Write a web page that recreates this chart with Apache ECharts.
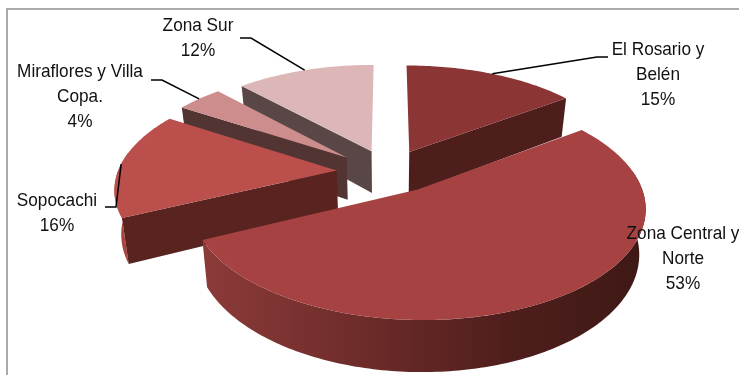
<!DOCTYPE html>
<html>
<head>
<meta charset="utf-8">
<style>html,body{margin:0;padding:0;background:#fff}#chart{width:739px;height:375px}</style>
<script src="https://cdn.jsdelivr.net/npm/echarts@6/dist/echarts.min.js"></script>
</head>
<body>
<div id="chart"></div>
<script>
// Population share by zone, clockwise from twelve o'clock.
const zones = ['El Rosario y\nBelén', 'Zona Central y\nNorte', 'Sopocachi', 'Miraflores y Villa\nCopa.', 'Zona Sur'];
const shares = [15, 53, 16, 4, 12];

const topColors = ['#8b3635', '#a64241', '#bb4f4b', '#cd8d8c', '#ddb7b7'];
const edgeColors = ['#4d1e1b', '#4d1e1b', '#59241f', '#523433', '#594747'];
const rimColors = ['#4d1e1b', null, '#a8443f', '#523433', '#594747'];

// Back-to-front painting sequence, as indices into the arrays above.
const paintOrder = [4, 3, 0, 2, 1];

// Label centre and leader elbow for each zone.
const labelCentres = [[658, 75], [683, 259], [57, 213], [80, 97], [198, 38]];
const leaderElbows = [[[597, 57], [608, 57]], null, [[116, 207], [105, 207]], [[162, 80], [151, 80]], [[251, 38], [240, 38]]];

// How far each wedge is pulled out along its bisector, across and into the view.
const pullOut = [[0.22, 0.22], [0.26, 0.19], [0.235, 0.22], [0.25, 0.22], [0.21, 0.22]];

// Perspective projection of the tilted pie.
const view = { cx: 388, cy: 172, ax: 219, ay: 105, persp: 0.15, depth: 43, converge: 0.025 };

function project(x, y, z) {
  const w = 1 / (1 + view.persp * y);
  return [
    view.cx + view.ax * x * w * (1 - view.converge * z),
    view.cy - view.ay * y * w + view.depth * z * w
  ];
}

const total = shares.reduce((a, b) => a + b, 0);
const sliceAngles = [];
shares.reduce((acc, v) => {
  const next = acc + v;
  sliceAngles.push([acc / total * 360, next / total * 360]);
  return next;
}, 0);

const rad = d => d * Math.PI / 180;

function apexOf(i) {
  const mid = rad((sliceAngles[i][0] + sliceAngles[i][1]) / 2);
  return [pullOut[i][0] * Math.sin(mid), pullOut[i][1] * Math.cos(mid)];
}

function rimPoint(i, deg, z) {
  const a = apexOf(i);
  return project(a[0] + Math.sin(rad(deg)), a[1] + Math.cos(rad(deg)), z);
}

function arcPoints(i, from, to, z) {
  const pts = [];
  const steps = Math.max(2, Math.ceil(Math.abs(to - from)));
  for (let s = 0; s <= steps; s++) pts.push(rimPoint(i, from + (to - from) * s / steps, z));
  return pts;
}

function wedgeChildren(i) {
  const [start, end] = sliceAngles[i];
  const a = apexOf(i);
  const apexTop = project(a[0], a[1], 0);
  const apexBottom = project(a[0], a[1], 1);
  const children = [];

  // Outer wall, only where the rim faces the viewer.
  const from = Math.max(start, 80), to = Math.min(end, 280);
  if (to > from) {
    const fill = zones[i].startsWith('Zona Central')
      ? new echarts.graphic.LinearGradient(0, 0, 1, 0, [
          { offset: 0, color: '#8c3b39' },
          { offset: 0.35, color: '#6e2c2a' },
          { offset: 0.7, color: '#4e1e1c' },
          { offset: 1, color: '#3e1915' }
        ])
      : rimColors[i];
    children.push({
      type: 'polygon',
      shape: { points: arcPoints(i, from, to, 0).concat(arcPoints(i, to, from, 1)) },
      style: { fill }
    });
  }

  // Flat cut faces that turn toward the viewer.
  if (Math.sin(rad(start)) < -1e-6) {
    children.push({ type: 'polygon', shape: { points: [apexTop, rimPoint(i, start, 0), rimPoint(i, start, 1), apexBottom] }, style: { fill: edgeColors[i] } });
  }
  if (Math.sin(rad(end)) > 1e-6) {
    children.push({ type: 'polygon', shape: { points: [apexTop, rimPoint(i, end, 0), rimPoint(i, end, 1), apexBottom] }, style: { fill: edgeColors[i] } });
  }

  // Top face.
  children.push({
    type: 'polygon',
    shape: { points: [apexTop].concat(arcPoints(i, start, end, 0)) },
    style: { fill: topColors[i] }
  });
  return children;
}

function labelChildren(i) {
  const children = [];
  const elbow = leaderElbows[i];
  if (elbow) {
    const mid = (sliceAngles[i][0] + sliceAngles[i][1]) / 2;
    children.push({
      type: 'polyline',
      shape: { points: [rimPoint(i, mid, 0)].concat(elbow) },
      style: { stroke: '#000', lineWidth: 1.5, fill: 'none' }
    });
  }
  const pos = labelCentres[i];
  children.push({
    type: 'text',
    x: pos[0], y: pos[1],
    scaleX: 0.93,
    style: {
      text: zones[i] + '\n' + shares[i] + '%',
      font: '18.5px "Liberation Sans", Arial, sans-serif',
      lineHeight: 25,
      fill: '#111',
      align: 'center',
      verticalAlign: 'middle'
    }
  });
  return children;
}

const chart = echarts.init(document.getElementById('chart'), null, { renderer: 'canvas' });
chart.setOption({
  animation: false,
  backgroundColor: '#fff',
  graphic: [{
    type: 'polyline',
    shape: { points: [[7, 375], [7, 9], [739, 9]] },
    style: { stroke: '#8f8f8f', lineWidth: 1.5, fill: 'none' },
    silent: true
  }],
  series: [
    {
      type: 'custom',
      coordinateSystem: 'none',
      z: 2,
      data: paintOrder.map(i => ({ name: zones[i], value: [shares[i], i] })),
      renderItem: (params, api) => ({ type: 'group', children: wedgeChildren(api.value(1)) })
    },
    {
      type: 'custom',
      coordinateSystem: 'none',
      z: 3,
      silent: true,
      data: zones.map((n, i) => ({ name: n, value: [shares[i], i] })),
      renderItem: (params, api) => ({ type: 'group', children: labelChildren(api.value(1)) })
    }
  ]
});
</script>
</body>
</html>
